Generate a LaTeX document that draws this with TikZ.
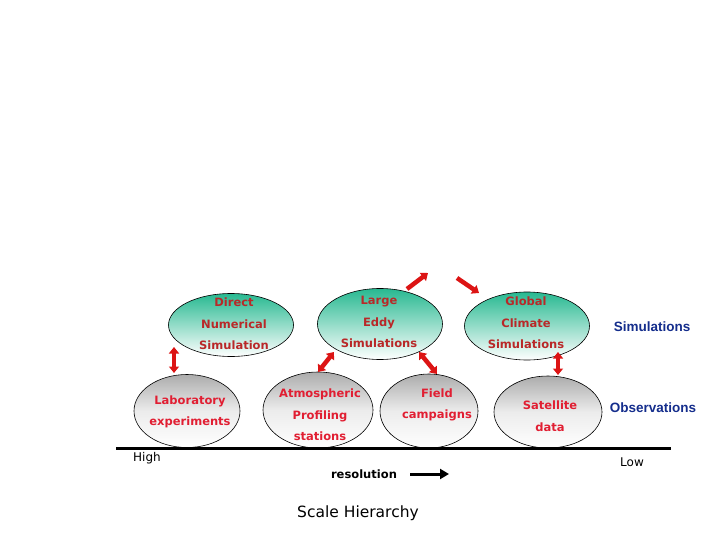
\documentclass[tikz,border=0pt]{standalone}
\usepackage{fontspec}
\setmainfont{DejaVu Sans}
\newfontfamily\blueface{Liberation Sans}
\usetikzlibrary{shapes.geometric,arrows.meta}
\definecolor{simred}{RGB}{185,40,40}
\definecolor{obsred}{RGB}{225,30,50}
\definecolor{teal1}{RGB}{40,185,145}
\definecolor{navy1}{RGB}{20,45,140}
\definecolor{arrred}{RGB}{220,20,20}
\tikzset{
  simell/.style={ellipse,draw=black,line width=0.6pt,top color=teal1,bottom color=white,inner sep=0pt},
  obsell/.style={ellipse,draw=black,line width=0.6pt,top color=gray!65,bottom color=white,middle color=gray!15,inner sep=0pt},
  simtxt/.style={align=center,text=simred,font=\fontsize{11.5}{21.5}\selectfont\bfseries,inner sep=0pt},
  obstxt/.style={align=center,text=obsred,font=\fontsize{11.5}{21.5}\selectfont\bfseries,inner sep=0pt},
  sidetxt/.style={text=navy1,font=\blueface\fontsize{13.5}{16}\selectfont\bfseries,inner sep=0pt},
  plaintxt/.style={text=black,font=\fontsize{12}{14}\selectfont,inner sep=0pt},
  redarrow/.style={draw=arrred,line width=4.5pt,{Triangle[width=10pt,length=6.5pt]}-{Triangle[width=10pt,length=6.5pt]}},
  redsingle/.style={draw=arrred,line width=4.5pt,-{Triangle[width=10pt,length=6.5pt]}},
}
\begin{document}
\begin{tikzpicture}[x=1pt,y=-1pt]
\useasboundingbox (0,0) rectangle (720,540);
% ellipses
\node[simell,minimum width=125pt,minimum height=63pt] (dnsE) at (231,325) {};
\node[simell,minimum width=125pt,minimum height=71pt] (lesE) at (380,324) {};
\node[simell,minimum width=125pt,minimum height=68pt] (gcsE) at (527,326) {};
\node[obsell,minimum width=106pt,minimum height=73pt] (labE) at (187,411) {};
\node[obsell,minimum width=110pt,minimum height=76pt] (atmE) at (318,410) {};
\node[obsell,minimum width=98pt,minimum height=74pt] (fldE) at (429,411) {};
\node[obsell,minimum width=108pt,minimum height=72pt] (satE) at (548,412) {};
% texts
\node[simtxt] (dnsT) at (234,324) {Direct\\Numerical\\Simulation};
\node[simtxt] (lesT) at (379,322) {Large\\Eddy\\Simulations};
\node[simtxt] (gcsT) at (526,323) {Global\\Climate\\Simulations};
\node[obstxt] (labT) at (190,412) {Laboratory\\experiments};
\node[obstxt] (atmT) at (320,415) {Atmospheric\\Profiling\\stations};
\node[obstxt] (fldT) at (437,405) {Field\\campaigns};
\node[obstxt] (satT) at (550,416) {Satellite\\data};
\node[sidetxt] (simS) at (652,327) {Simulations};
\node[sidetxt] (obsS) at (653,408) {Observations};
% baseline
\coordinate (bl1) at (116,448);
\coordinate (bl2) at (671,448);
\draw[line width=3pt] (bl1) -- (bl2);
\node[plaintxt] (high) at (147,458) {High};
\node[plaintxt] (low) at (632,462) {Low};
\node[plaintxt,font=\fontsize{11.5}{14}\selectfont\bfseries] (res) at (364,474) {resolution};
\coordinate (ra1) at (410,474);
\coordinate (ra2) at (449,474);
\draw[line width=3pt,-{Triangle[width=10pt,length=9pt]}] (ra1) -- (ra2);
\node[plaintxt,font=\fontsize{15.5}{18}\selectfont] (title) at (358,513) {Scale Hierarchy};
% red arrows
\coordinate (a1s) at (174,347); \coordinate (a1e) at (174,373);
\draw[redarrow] (a1s) -- (a1e);
\coordinate (a2s) at (318,372); \coordinate (a2e) at (334,352);
\draw[redarrow] (a2s) -- (a2e);
\coordinate (a3s) at (407,289); \coordinate (a3e) at (428,273);
\draw[redsingle] (a3s) -- (a3e);
\coordinate (a4s) at (457,278); \coordinate (a4e) at (479,293);
\draw[redsingle] (a4s) -- (a4e);
\coordinate (a5s) at (419,352); \coordinate (a5e) at (437,374);
\draw[redarrow] (a5s) -- (a5e);
\coordinate (a6s) at (558,352); \coordinate (a6e) at (558,375);
\draw[redarrow] (a6s) -- (a6e);
\end{tikzpicture}
\end{document}
